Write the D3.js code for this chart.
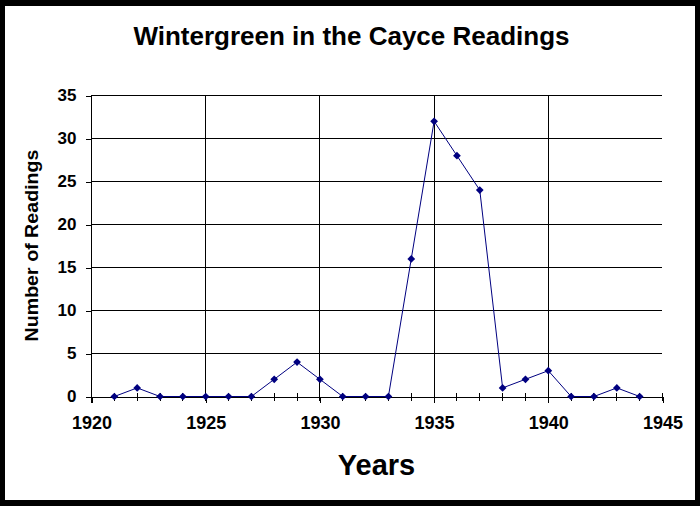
<!DOCTYPE html>
<html lang="en">
<head>
    <meta charset="utf-8">
    <title>Wintergreen in the Cayce Readings</title>
    <script src="https://d3js.org/d3.v7.min.js"></script>
    <style>
        body { margin: 0; }
        svg { display: block; font-family: Arial, "Liberation Sans", sans-serif; font-weight: bold; }
        .axis path, .axis line, .grid line, .minor line { stroke: black; shape-rendering: crispEdges; }
    </style>
</head>
<body>
<script>
    // data
    var years = [1921, 1922, 1923, 1924, 1925, 1926, 1927, 1928, 1929, 1930, 1931, 1932,
                 1933, 1934, 1935, 1936, 1937, 1938, 1939, 1940, 1941, 1942, 1943, 1944];
    var readings = [0, 1, 0, 0, 0, 0, 0, 2, 4, 2, 0, 0,
                    0, 16, 32, 28, 24, 1, 2, 3, 0, 0, 1, 0];
    var xTicks = [1920, 1925, 1930, 1935, 1940, 1945];
    var yTicks = [0, 5, 10, 15, 20, 25, 30, 35];
    var minorTicks = d3.range(1920, 1946);

    var W = 700, H = 506;
    var plotLeft = 91, plotRight = 662, plotTop = 95, plotBottom = 396;

    var svg = d3.select("body").append("svg")
        .attr("width", W)
        .attr("height", H);

    // black frame with white face
    svg.append("rect").attr("width", W).attr("height", H).attr("fill", "black");
    svg.append("rect").attr("x", 5).attr("y", 6).attr("width", 690).attr("height", 494).attr("fill", "white");

    var x = d3.scaleLinear().domain([1920, 1945]).range([plotLeft, plotRight]);
    var y = d3.scaleLinear().domain([0, 35]).range([plotBottom, plotTop]);

    // horizontal grid
    svg.append("g").attr("class", "grid")
        .selectAll("line")
        .data(yTicks.filter(function (d) { return d > 0; }))
        .enter().append("line")
        .attr("x1", plotLeft).attr("x2", plotRight)
        .attr("y1", function (d) { return y(d) + 0.5; })
        .attr("y2", function (d) { return y(d) + 0.5; });

    // vertical grid
    svg.append("g").attr("class", "grid")
        .selectAll("line")
        .data(xTicks.slice(1, -1))
        .enter().append("line")
        .attr("x1", function (d) { return x(d) + 0.5; })
        .attr("x2", function (d) { return x(d) + 0.5; })
        .attr("y1", plotTop).attr("y2", plotBottom);

    // minor year ticks crossing the axis
    svg.append("g").attr("class", "minor")
        .selectAll("line")
        .data(minorTicks)
        .enter().append("line")
        .attr("x1", function (d) { return x(d) + 0.5; })
        .attr("x2", function (d) { return x(d) + 0.5; })
        .attr("y1", plotBottom - 3).attr("y2", plotBottom + 5);

    // y axis
    var yAxis = svg.append("g").attr("class", "axis")
        .attr("transform", "translate(" + (plotLeft + 0.5) + ",0.5)")
        .call(d3.axisLeft(y).tickValues(yTicks).tickSize(6).tickSizeOuter(0).tickPadding(9));
    yAxis.selectAll("text").attr("font-size", 17).attr("fill", "black")
        .attr("font-family", "Arial, 'Liberation Sans', sans-serif").attr("font-weight", "bold");
    yAxis.select(".domain").attr("d", "M0," + (plotTop - 0.5) + "V" + (plotBottom + 6));

    // x axis
    var xAxis = svg.append("g").attr("class", "axis")
        .attr("transform", "translate(0.5," + (plotBottom + 0.5) + ")")
        .call(d3.axisBottom(x).tickValues(xTicks).tickSize(6).tickSizeOuter(0).tickPadding(14)
            .tickFormat(d3.format("d")));
    xAxis.selectAll("text").attr("font-size", 18).attr("fill", "black")
        .attr("font-family", "Arial, 'Liberation Sans', sans-serif").attr("font-weight", "bold");

    // line and markers
    var pts = years.map(function (d, i) { return [d, readings[i]]; });
    svg.append("path")
        .datum(pts)
        .attr("fill", "none")
        .attr("stroke", "#000080")
        .attr("stroke-width", 1)
        .attr("d", d3.line()
            .x(function (d) { return x(d[0]) + 0.5; })
            .y(function (d) { return y(d[1]) + 0.5; }));

    svg.append("g").selectAll("path")
        .data(pts)
        .enter().append("path")
        .attr("fill", "#000080")
        .attr("d", d3.symbol(d3.symbolSquare).size(30))
        .attr("transform", function (d) {
            return "translate(" + (x(d[0]) + 0.5) + "," + (y(d[1]) + 0.5) + ") rotate(45)";
        });

    // titles
    svg.append("text")
        .attr("x", 351.5).attr("y", 45)
        .attr("text-anchor", "middle")
        .attr("font-size", 26)
        .text("Wintergreen in the Cayce Readings");

    svg.append("text")
        .attr("x", (plotLeft + plotRight) / 2).attr("y", 475)
        .attr("text-anchor", "middle")
        .attr("font-size", 29)
        .text("Years");

    svg.append("text")
        .attr("transform", "translate(38," + ((plotTop + plotBottom) / 2) + ") rotate(-90)")
        .attr("text-anchor", "middle")
        .attr("font-size", 18)
        .attr("textLength", 192)
        .attr("lengthAdjust", "spacingAndGlyphs")
        .text("Number of Readings");
</script>
</body>
</html>
